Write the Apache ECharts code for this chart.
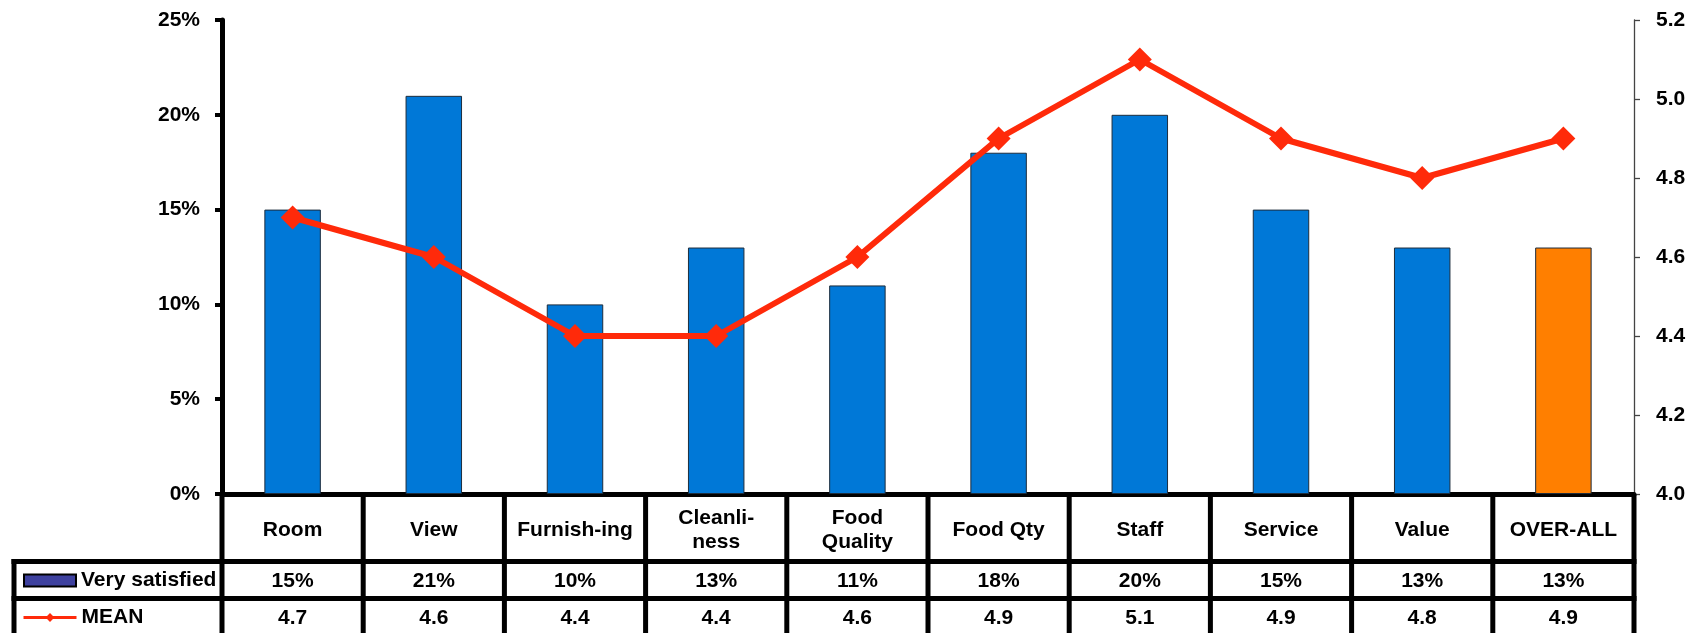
<!DOCTYPE html>
<html>
<head>
<meta charset="utf-8">
<script src="https://cdn.jsdelivr.net/npm/echarts@6/dist/echarts.min.js"></script>
<style>
html,body{margin:0;padding:0;background:#fff;}
#c{width:1696px;height:633px;}
</style>
</head>
<body>
<div id="c"></div>
<script>
const categories = ['Room','View','Furnish-ing','Cleanli-\nness','Food\nQuality','Food Qty','Staff','Service','Value','OVER-ALL'];
const verySatisfied = [15,21,10,13,11,18,20,15,13,13];
const meanValues = [4.7,4.6,4.4,4.4,4.6,4.9,5.1,4.9,4.8,4.9];
const leftTicks = {min:0, max:25, interval:5};
const rightTicks = {min:4.0, max:5.2, interval:0.2};

const FONT = '"Liberation Sans", Arial, sans-serif';
const W = 1696, H = 633;
const G = {left:222, right:62, top:20, bottom:139};
const gx0 = G.left, gx1 = W - G.right, gy1 = H - G.bottom;
const row1 = 561.5, row2 = 598.5, tableLeft = 14;
const catW = (gx1 - gx0) / categories.length;
const LW = 5;

const chart = echarts.init(document.getElementById('c'));

const graphics = [];
function hline(x1,x2,y){graphics.push({type:'line',shape:{x1:x1,y1:y,x2:x2,y2:y},style:{stroke:'#000',lineWidth:LW},z:10});}
function vline(x,y1,y2){graphics.push({type:'line',shape:{x1:x,y1:y1,x2:x,y2:y2},style:{stroke:'#000',lineWidth:LW},z:10});}
hline(tableLeft-LW/2,gx1+LW/2,row1);
hline(tableLeft-LW/2,gx1+LW/2,row2);
vline(tableLeft,row1-LW/2,H);
for(let i=0;i<=categories.length;i++){ vline(gx0+i*catW, gy1, H); }

const labelStyle = {fontFamily:FONT,fontWeight:'bold',fontSize:21,color:'#000'};

chart.setOption({
  animation:false,
  backgroundColor:'#fff',
  grid:{left:G.left,right:G.right,top:G.top,bottom:G.bottom,containLabel:false},
  legend:[
    {data:[{name:'Very satisfied',icon:'rect',itemStyle:{color:'#3E419F',borderColor:'#000',borderWidth:2}}],
     left:23,top:570,padding:0,itemWidth:52,itemHeight:12,itemGap:0,
     textStyle:Object.assign({lineHeight:20},labelStyle)},
    {data:['MEAN'],left:22,top:607,padding:0,itemWidth:53,itemHeight:11,
     lineStyle:{width:3},
     textStyle:Object.assign({lineHeight:20},labelStyle)}
  ],
  xAxis:[
    {type:'category',data:categories,position:'bottom',
     axisLine:{lineStyle:{color:'#000',width:LW}},
     axisTick:{show:false},
     axisLabel:Object.assign({interval:0,margin:36,verticalAlign:'middle',lineHeight:24,align:'center'},labelStyle)},
    {type:'category',data:verySatisfied.map(v=>v+'%'),position:'bottom',
     axisLine:{show:false},axisTick:{show:false},
     axisLabel:Object.assign({interval:0,margin:87,verticalAlign:'middle'},labelStyle)},
    {type:'category',data:meanValues.map(v=>v.toFixed(1)),position:'bottom',
     axisLine:{show:false},axisTick:{show:false},
     axisLabel:Object.assign({interval:0,margin:124,verticalAlign:'middle'},labelStyle)}
  ],
  yAxis:[
    {type:'value',min:leftTicks.min,max:leftTicks.max,interval:leftTicks.interval,
     axisLine:{show:true,lineStyle:{color:'#000',width:LW}},
     axisTick:{show:true,length:7,lineStyle:{color:'#000',width:4}},
     splitLine:{show:false},
     axisLabel:Object.assign({margin:22,formatter:'{value}%'},labelStyle)},
    {type:'value',min:rightTicks.min,max:rightTicks.max,interval:rightTicks.interval,position:'right',
     axisLine:{show:true,lineStyle:{color:'#444',width:1.3}},
     axisTick:{show:true,length:6,lineStyle:{color:'#444',width:1.3}},
     splitLine:{show:false},
     axisLabel:Object.assign({margin:22,formatter:v=>v.toFixed(1)},labelStyle)}
  ],
  series:[
    {name:'Very satisfied',type:'bar',xAxisIndex:0,yAxisIndex:0,data:verySatisfied,barWidth:'40%',
     itemStyle:{color:p=>p.dataIndex===categories.length-1?'#FF7F00':'#0078D7',borderColor:'#1d2d3d',borderWidth:1}},
    {name:'MEAN',type:'line',xAxisIndex:0,yAxisIndex:1,data:meanValues,
     lineStyle:{color:'#FF2A0A',width:6},itemStyle:{color:'#FF2A0A'},
     symbol:'diamond',symbolSize:24,z:5}
  ],
  graphic:graphics
});
</script>
</body>
</html>
